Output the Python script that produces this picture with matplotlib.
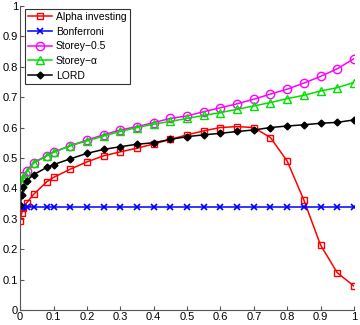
import numpy as np
import matplotlib
matplotlib.use("Agg")
import matplotlib.pyplot as plt

plt.rcParams['font.family'] = ['Liberation Sans', 'DejaVu Sans']

# x positions of the points
x = [0, 0.005, 0.01, 0.02, 0.04, 0.08, 0.1, 0.15, 0.2, 0.25, 0.3, 0.35, 0.4, 0.45,
     0.5, 0.55, 0.6, 0.65, 0.7, 0.75, 0.8, 0.85, 0.9, 0.95, 1.0]

alpha_inv = [0.294, 0.32, 0.335, 0.353, 0.38, 0.422, 0.436, 0.463, 0.487, 0.507, 0.52,
             0.532, 0.546, 0.561, 0.576, 0.589, 0.6, 0.603, 0.6, 0.567, 0.49, 0.362,
             0.214, 0.123, 0.079]
bonferroni = [0.34] * len(x)
storey_05 = [0.41, 0.425, 0.44, 0.458, 0.485, 0.508, 0.52, 0.54, 0.559, 0.576, 0.592,
             0.603, 0.616, 0.63, 0.638, 0.652, 0.665, 0.678, 0.693, 0.71, 0.726, 0.746,
             0.768, 0.793, 0.826]
storey_a = [0.406, 0.422, 0.438, 0.455, 0.482, 0.507, 0.518, 0.54, 0.556, 0.572, 0.587,
            0.6, 0.611, 0.62, 0.63, 0.64, 0.649, 0.66, 0.671, 0.682, 0.695, 0.706,
            0.72, 0.731, 0.748]
lord = [0.345, 0.378, 0.405, 0.425, 0.445, 0.469, 0.478, 0.497, 0.515, 0.528, 0.537,
        0.545, 0.55, 0.561, 0.57, 0.576, 0.581, 0.587, 0.592, 0.6, 0.605, 0.609,
        0.614, 0.617, 0.625]

xticks = np.arange(0, 1.01, 0.1)
yticks = np.arange(0, 1.01, 0.1)
ticklabels = ['0', '0.1', '0.2', '0.3', '0.4', '0.5', '0.6', '0.7', '0.8', '0.9', '1']

fig = plt.figure(figsize=(3.6, 3.25), dpi=100)
ax = fig.add_axes([0.056, 0.046, 0.927, 0.936])

ax.plot(x, alpha_inv, color='red', marker='s', ms=5, mfc='none', lw=1.1, label='Alpha investing')
ax.plot(x, bonferroni, color='blue', marker='x', ms=5, mew=1.2, lw=1.1, label='Bonferroni')
ax.plot(x, storey_05, color='magenta', marker='o', ms=6, mfc='none', lw=1.1, label='Storey\u22120.5')
ax.plot(x, storey_a, color='#00e000', marker='^', ms=6, mfc='none', lw=1.1, label='Storey\u2212\u03b1')
ax.plot(x, lord, color='black', marker='D', ms=3.5, lw=1.1, label='LORD')

ax.set_xlim(0, 1)
ax.set_ylim(0, 1)
ax.set_xticks(xticks)
ax.set_yticks(yticks)
ax.set_xticklabels(ticklabels)
ax.set_yticklabels(ticklabels)
ax.tick_params(direction='in', length=3, labelsize=8, pad=1.5, color='#555555')
ax.spines['top'].set_visible(False)
ax.spines['right'].set_visible(False)
ax.spines['left'].set_color('#555555')
ax.spines['bottom'].set_color('#555555')

leg = ax.legend(loc='upper left', fontsize=7.5, fancybox=False, edgecolor='black',
                handlelength=2.3, borderpad=0.3, labelspacing=0.45, handletextpad=0.35,
                borderaxespad=0, bbox_to_anchor=(0.015, 0.99))
leg.get_frame().set_linewidth(0.8)

fig.savefig('out.png', dpi=100)
